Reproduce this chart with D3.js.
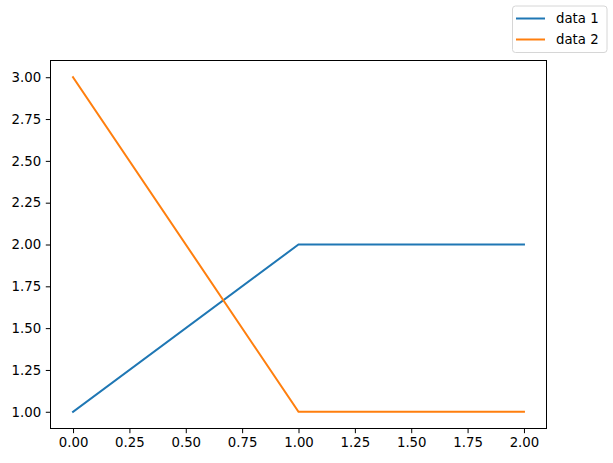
<!DOCTYPE html>
<html>
<head>
<meta charset="utf-8">
<script src="https://cdn.jsdelivr.net/npm/d3@7"></script>
<style>
  body { margin: 0; background: #fff; }
  svg { display: block; font-family: "DejaVu Sans", sans-serif; }
</style>
</head>
<body>
<div id="chart"></div>
<script>
// data
const xValues = [0, 1, 2];
const seriesNames = ['data 1', 'data 2'];
const data1 = [1, 2, 2];
const data2 = [3, 1, 1];
const xTicks = [0, 0.25, 0.5, 0.75, 1, 1.25, 1.5, 1.75, 2];
const yTicks = [1, 1.25, 1.5, 1.75, 2, 2.25, 2.5, 2.75, 3];

const colors = ['#1f77b4', '#ff7f0e'];
const series = [data1, data2].map((values, i) => ({
  name: seriesNames[i],
  color: colors[i],
  points: values.map((y, j) => ({ x: xValues[j], y })),
}));

const width = 613;
const height = 463;
const margin = { top: 60.5, right: 66.5, bottom: 34.5, left: 50.5 };

const svg = d3.select('#chart')
  .append('svg')
  .attr('width', width)
  .attr('height', height);

// matplotlib-style 5% padding around the data range
const xMin = d3.min(xValues);
const xMax = d3.max(xValues);
const xPad = (xMax - xMin) * 0.05;
const allY = data1.concat(data2);
const yMin = d3.min(allY);
const yMax = d3.max(allY);
const yPad = (yMax - yMin) * 0.05;

const x = d3.scaleLinear()
  .domain([xMin - xPad, xMax + xPad])
  .range([margin.left, width - margin.right]);

const y = d3.scaleLinear()
  .domain([yMin - yPad, yMax + yPad])
  .range([height - margin.bottom, margin.top]);

const line = d3.line()
  .x((d) => x(d.x))
  .y((d) => y(d.y));

svg.append('g')
  .selectAll('path')
  .data(series)
  .join('path')
  .attr('fill', 'none')
  .attr('stroke', (d) => d.color)
  .attr('stroke-width', 2)
  .attr('stroke-linecap', 'square')
  .attr('d', (d) => line(d.points));

// axes
const xAxis = svg.append('g')
  .attr('transform', `translate(0,${height - margin.bottom})`)
  .call(d3.axisBottom(x)
    .tickValues(xTicks)
    .tickFormat(d3.format('.2f'))
    .tickSizeInner(4.7)
    .tickSizeOuter(0)
    .tickPadding(4.7));

const yAxis = svg.append('g')
  .attr('transform', `translate(${margin.left},0)`)
  .call(d3.axisLeft(y)
    .tickValues(yTicks)
    .tickFormat(d3.format('.2f'))
    .tickSizeInner(4.7)
    .tickSizeOuter(0)
    .tickPadding(4.7));

[xAxis, yAxis].forEach((g) => {
  g.select('.domain').remove();
  g.selectAll('.tick line').attr('stroke', '#000').attr('stroke-width', 1);
  g.selectAll('.tick text')
    .attr('fill', '#000')
    .attr('font-size', 13.3)
    .attr('font-family', '"DejaVu Sans", sans-serif');
});

// frame
svg.append('rect')
  .attr('x', margin.left)
  .attr('y', margin.top)
  .attr('width', width - margin.left - margin.right)
  .attr('height', height - margin.top - margin.bottom)
  .attr('fill', 'none')
  .attr('stroke', '#000')
  .attr('stroke-width', 1);

// figure legend, upper right
const legend = svg.append('g');

legend.append('rect')
  .attr('x', 512.5)
  .attr('y', 6)
  .attr('width', 94.5)
  .attr('height', 46.5)
  .attr('rx', 3)
  .attr('fill', '#fff')
  .attr('fill-opacity', 0.8)
  .attr('stroke', '#d6d6d6')
  .attr('stroke-width', 1);

const rows = legend.selectAll('g.row')
  .data(series)
  .join('g')
  .attr('class', 'row')
  .attr('transform', (_, i) => `translate(0,${18.5 + i * 21})`);

rows.append('line')
  .attr('x1', 516)
  .attr('x2', 545)
  .attr('stroke', (d) => d.color)
  .attr('stroke-width', 2);

rows.append('text')
  .attr('x', 556)
  .attr('dy', '0.35em')
  .attr('font-size', 13.3)
  .attr('fill', '#000')
  .text((d) => d.name);
</script>
</body>
</html>
